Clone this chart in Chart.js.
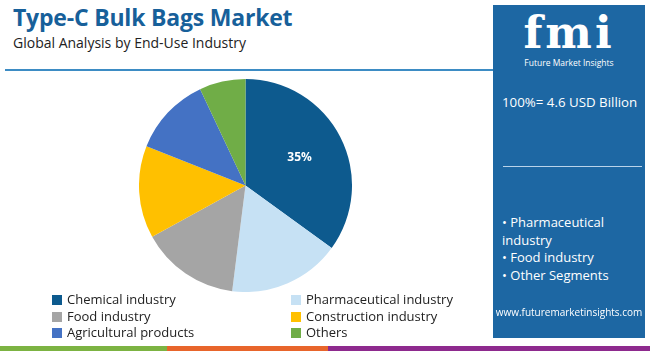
<!DOCTYPE html>
<html>
<head>
<meta charset="utf-8">
<script src="https://cdn.jsdelivr.net/npm/chart.js@4.4.0/dist/chart.umd.min.js"></script>
<style>
  body { margin: 0; width: 650px; height: 351px; background: #fff; font-family: "Open Sans", sans-serif; position: relative; overflow: hidden; }
  .title { position: absolute; left: 13px; top: 4px; font: bold 23px/26px "Open Sans", sans-serif; color: #17609a; letter-spacing: -0.2px; }
  .subtitle { position: absolute; left: 13px; top: 34px; font: 14px/17px "Open Sans", sans-serif; color: #222; }
  .rule { position: absolute; left: 5px; top: 69px; width: 488px; height: 2px; background: #3d8cc4; }
  #pieWrap { position: absolute; left: 139px; top: 79px; width: 213px; height: 213px; }
  .legend { position: absolute; left: 52px; top: 291px; width: 430px; font: 13px/17px "Open Sans", sans-serif; color: #222; }
  .legend .item { position: absolute; white-space: nowrap; }
  .legend .box { display: inline-block; width: 10px; height: 10px; margin-right: 5px; vertical-align: -1px; }
  .panel { position: absolute; left: 493px; top: 5px; width: 152px; height: 333px; background: #1d67a3; color: #fff; font-family: "Open Sans", sans-serif; }
  .logo { position: absolute; left: 0; width: 152px; top: 6px; text-align: center; font: bold 44px/44px "DejaVu Serif", serif; letter-spacing: 3px; }
  .logosub { position: absolute; left: 0; width: 152px; top: 53px; text-align: center; font-size: 8.5px; line-height: 10px; }
  .total { position: absolute; left: 9px; top: 89px; font-size: 13.3px; line-height: 17px; }
  .prule { position: absolute; left: 10px; top: 161px; width: 139px; height: 1px; background: #b9d3ea; }
  .bullets { position: absolute; left: 9px; top: 209px; font-size: 13px; line-height: 17.5px; }
  .url { position: absolute; left: 0; width: 152px; top: 301px; text-align: center; font-size: 10px; line-height: 12px; }
  .strip { position: absolute; top: 346px; height: 5px; }
</style>
</head>
<body>
<div class="title">Type-C Bulk Bags Market</div>
<div class="subtitle">Global Analysis by End-Use Industry</div>
<div class="rule"></div>
<div id="pieWrap"><canvas id="pie" width="213" height="213"></canvas></div>
<div class="legend" id="legend"></div>
<div class="panel">
  <div class="logo">fmi</div>
  <div class="logosub">Future Market Insights</div>
  <div class="total">100%= 4.6 USD Billion</div>
  <div class="prule"></div>
  <div class="bullets">• Pharmaceutical<br>industry<br>• Food industry<br>• Other Segments</div>
  <div class="url">www.futuremarketinsights.com</div>
</div>
<div class="strip" style="left:0;width:167px;background:#7cb342"></div>
<div class="strip" style="left:167px;width:161px;background:#e8652b"></div>
<div class="strip" style="left:328px;width:322px;background:#8e2a8e"></div>
<script>
const categories = ['Chemical industry', 'Pharmaceutical industry', 'Food industry', 'Construction industry', 'Agricultural products', 'Others'];
const shares = [35, 17, 15, 14, 12, 7];
const colors = ['#0d5a8e', '#c6e1f4', '#a5a5a5', '#ffc000', '#4472c4', '#70ad47'];
const shownLabels = ['35%', '', '', '', '', ''];

// legend in two columns
const legend = document.getElementById('legend');
categories.forEach((c, i) => {
    const el = document.createElement('div');
    el.className = 'item';
    el.style.left = (i % 2 ? 239 : 0) + 'px';
    el.style.top = (Math.floor(i / 2) * 16.5) + 'px';
    el.innerHTML = '<span class="box" style="background:' + colors[i] + '"></span>' + c;
    legend.appendChild(el);
});

const sliceLabels = {
    id: 'sliceLabels',
    afterDatasetsDraw(chart) {
        const ctx = chart.ctx;
        chart.getDatasetMeta(0).data.forEach((arc, i) => {
            if (!shownLabels[i]) return;
            const mid = (arc.startAngle + arc.endAngle) / 2;
            const r = arc.outerRadius * 0.57;
            ctx.save();
            ctx.fillStyle = '#fff';
            ctx.font = 'bold 12px "Open Sans", sans-serif';
            ctx.textAlign = 'center';
            ctx.textBaseline = 'middle';
            ctx.fillText(shownLabels[i], arc.x + Math.cos(mid) * r, arc.y + Math.sin(mid) * r);
            ctx.restore();
        });
    }
};

new Chart(document.getElementById('pie'), {
    type: 'pie',
    data: {
        labels: categories,
        datasets: [{ data: shares, backgroundColor: colors, borderWidth: 0 }]
    },
    options: {
        responsive: false,
        animation: false,
        layout: { padding: 0 },
        plugins: { legend: { display: false }, tooltip: { enabled: false } }
    },
    plugins: [sliceLabels]
});
</script>
</body>
</html>
